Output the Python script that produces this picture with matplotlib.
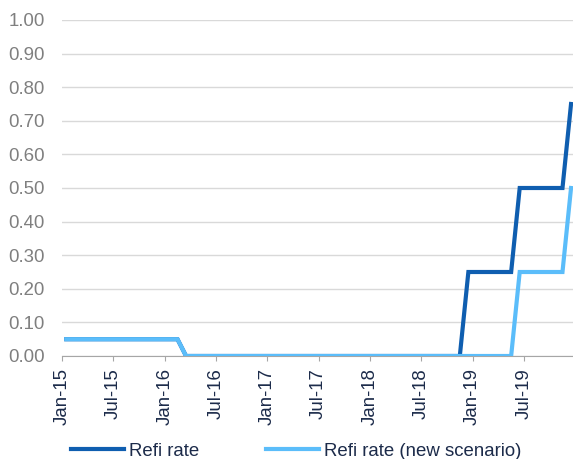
import numpy as np
import matplotlib
matplotlib.use("Agg")
import matplotlib.pyplot as plt

plt.rcParams['font.family'] = ['Liberation Sans', 'DejaVu Sans']

# monthly, Jan-15 .. Dec-19
months = ['Jan-15', 'Feb-15', 'Mar-15', 'Apr-15', 'May-15', 'Jun-15', 'Jul-15', 'Aug-15', 'Sep-15', 'Oct-15', 'Nov-15', 'Dec-15',
          'Jan-16', 'Feb-16', 'Mar-16', 'Apr-16', 'May-16', 'Jun-16', 'Jul-16', 'Aug-16', 'Sep-16', 'Oct-16', 'Nov-16', 'Dec-16',
          'Jan-17', 'Feb-17', 'Mar-17', 'Apr-17', 'May-17', 'Jun-17', 'Jul-17', 'Aug-17', 'Sep-17', 'Oct-17', 'Nov-17', 'Dec-17',
          'Jan-18', 'Feb-18', 'Mar-18', 'Apr-18', 'May-18', 'Jun-18', 'Jul-18', 'Aug-18', 'Sep-18', 'Oct-18', 'Nov-18', 'Dec-18',
          'Jan-19', 'Feb-19', 'Mar-19', 'Apr-19', 'May-19', 'Jun-19', 'Jul-19', 'Aug-19', 'Sep-19', 'Oct-19', 'Nov-19', 'Dec-19']

refi = [0.05, 0.05, 0.05, 0.05, 0.05, 0.05, 0.05, 0.05, 0.05, 0.05, 0.05, 0.05,
        0.05, 0.05, 0.00, 0.00, 0.00, 0.00, 0.00, 0.00, 0.00, 0.00, 0.00, 0.00,
        0.00, 0.00, 0.00, 0.00, 0.00, 0.00, 0.00, 0.00, 0.00, 0.00, 0.00, 0.00,
        0.00, 0.00, 0.00, 0.00, 0.00, 0.00, 0.00, 0.00, 0.00, 0.00, 0.00, 0.25,
        0.25, 0.25, 0.25, 0.25, 0.25, 0.50, 0.50, 0.50, 0.50, 0.50, 0.50, 0.75]

refi_new = [0.05, 0.05, 0.05, 0.05, 0.05, 0.05, 0.05, 0.05, 0.05, 0.05, 0.05, 0.05,
            0.05, 0.05, 0.00, 0.00, 0.00, 0.00, 0.00, 0.00, 0.00, 0.00, 0.00, 0.00,
            0.00, 0.00, 0.00, 0.00, 0.00, 0.00, 0.00, 0.00, 0.00, 0.00, 0.00, 0.00,
            0.00, 0.00, 0.00, 0.00, 0.00, 0.00, 0.00, 0.00, 0.00, 0.00, 0.00, 0.00,
            0.00, 0.00, 0.00, 0.00, 0.00, 0.25, 0.25, 0.25, 0.25, 0.25, 0.25, 0.50]

y_ticks = [0.0, 0.1, 0.2, 0.3, 0.4, 0.5, 0.6, 0.7, 0.8, 0.9, 1.0]

W, H = 573, 459
FS = 13.4
navy = '#1C2B4A'
px = 72 / 100  # points per pixel
fig = plt.figure(figsize=(W / 100, H / 100), dpi=100)
ax = fig.add_axes([62 / W, 1 - 356 / H, (W - 62) / W, 336 / H])

x = np.arange(len(months))
ax.plot(x, refi, color='#0F5EB0', lw=3, label='Refi rate', solid_joinstyle='miter', zorder=3)
ax.plot(x, refi_new, color='#5BBDFA', lw=3, label='Refi rate (new scenario)', solid_joinstyle='miter', zorder=4)

ax.set_ylim(0, 1.0)
ax.set_xlim(-0.5, 59.23)
ax.set_yticks(y_ticks)
ax.set_yticklabels([f'{v:.2f}' for v in y_ticks], color='#7F7F7F', fontsize=FS)
ax.tick_params(axis='y', length=0, pad=17 * px)
ax.grid(axis='y', color='#D9D9D9', lw=1)
ax.set_axisbelow(True)

ax.set_xticks(x[::6] - 0.5)
ax.set_xticklabels(months[::6], rotation=90, color=navy, fontsize=FS)
ax.tick_params(axis='x', length=5 * px, color='#A6A6A6', pad=7 * px)

for s in ['top', 'right', 'left']:
    ax.spines[s].set_visible(False)
ax.spines['bottom'].set_color('#A6A6A6')
ax.spines['bottom'].set_zorder(2)

ax.legend(loc='center left', bbox_to_anchor=(71 / W, 1 - 451 / H), bbox_transform=fig.transFigure,
          ncol=2, frameon=False, fontsize=FS, handlelength=2.85, handletextpad=0.27,
          columnspacing=3.6, labelcolor=navy, borderaxespad=0.0, borderpad=0.0)

fig.savefig('out.png', dpi=100)
